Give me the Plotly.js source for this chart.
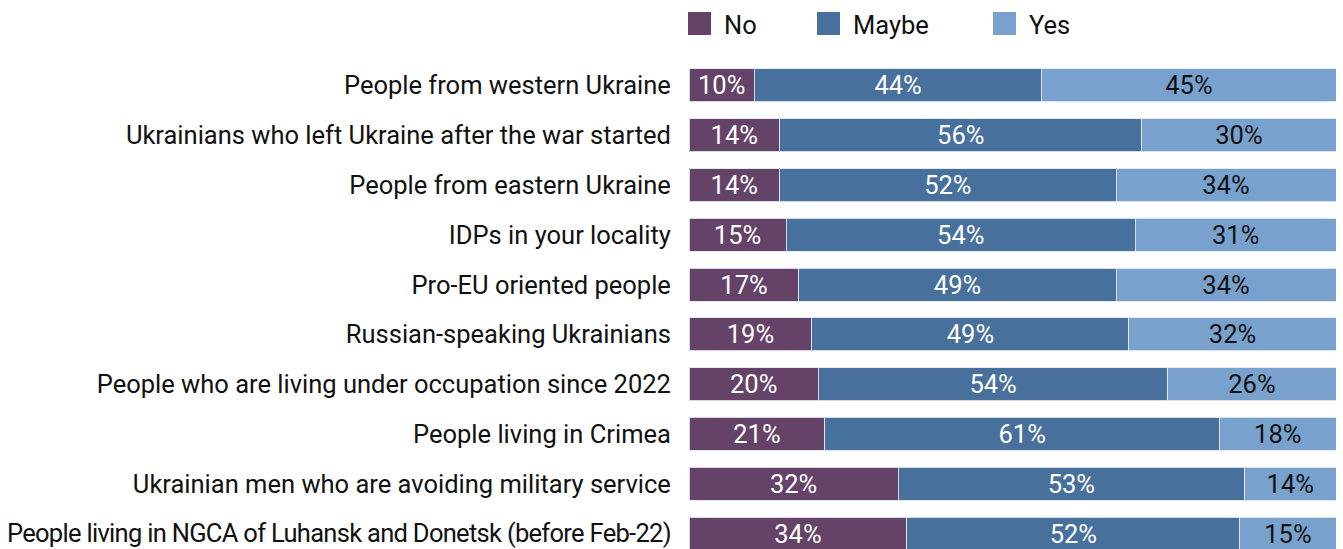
<!DOCTYPE html>
<html>
<head>
<meta charset="utf-8">
<script src="https://cdn.plot.ly/plotly-3.0.1.min.js"></script>
<style>
  html, body { margin: 0; padding: 0; background: #ffffff; }
  #chart { width: 1343px; height: 549px; }
</style>
</head>
<body>
<div id="chart"></div>
<script>
// Groups, listed top to bottom
const groups = [
  "People from western Ukraine",
  "Ukrainians who left Ukraine after the war started",
  "People from eastern Ukraine",
  "IDPs in your locality",
  "Pro-EU oriented people",
  "Russian-speaking Ukrainians",
  "People who are living under occupation since 2022",
  "People living in Crimea",
  "Ukrainian men who are avoiding military service",
  "People living in NGCA of Luhansk and Donetsk (before Feb-22)"
];

// Answer shares, percent
const noValues    = [10, 14, 14, 15, 17, 19, 20, 21, 32, 34];
const maybeValues = [44, 56, 52, 54, 49, 49, 54, 61, 53, 52];
const yesValues   = [45, 30, 34, 31, 34, 32, 26, 18, 14, 15];

const seriesNames = ["No", "Maybe", "Yes"];
const seriesColors = ["#654368", "#48709c", "#78a1cd"];
const labelColors = ["#ffffff", "#ffffff", "#111111"];

const FONT = "Roboto, 'Noto Sans', sans-serif";
const FS = 25.5;
const W = 1343, H = 549;
const M = { l: 689, r: 7, t: 60, b: 0 };
const plotW = W - M.l - M.r, plotH = H - M.t - M.b;

const seriesValues = [noValues, maybeValues, yesValues];
const traces = seriesValues.map((vals, i) => ({
  type: "bar",
  orientation: "h",
  name: seriesNames[i],
  y: groups,
  x: vals,
  text: vals.map(v => v + "%"),
  texttemplate: "%{text}",
  textposition: "inside",
  insidetextanchor: "middle",
  textangle: 0,
  constraintext: "none",
  textfont: { family: FONT, size: FS, color: labelColors[i] },
  marker: { color: seriesColors[i], line: { color: "rgba(225,232,240,0.9)", width: 1 } },
  hoverinfo: "skip",
  showlegend: false
}));

// The longest group name is set a little tighter so it fits the margin
const tickText = groups.map(g =>
  g.length > 55 ? '<span style="letter-spacing:-0.7px">' + g + '</span>' : g);

// Legend built from swatches and labels above the plot
const px2x = px => (px - M.l) / plotW;
const py2y = py => (H - M.b - py) / plotH;
const legendX = [688, 817, 993];
const shapes = [], annotations = [];
seriesNames.forEach((name, i) => {
  shapes.push({
    type: "rect", xref: "paper", yref: "paper",
    x0: px2x(legendX[i]), x1: px2x(legendX[i] + 23),
    y0: py2y(35), y1: py2y(12),
    fillcolor: seriesColors[i], line: { width: 0 }
  });
  annotations.push({
    xref: "paper", yref: "paper",
    x: px2x(legendX[i] + 34), y: py2y(25),
    xanchor: "left", yanchor: "middle",
    text: name, showarrow: false,
    font: { family: FONT, size: FS, color: "#111111" }
  });
});

const layout = {
  width: W, height: H,
  margin: M,
  paper_bgcolor: "#ffffff",
  plot_bgcolor: "#ffffff",
  barmode: "stack",
  barnorm: "percent",
  bargap: 0.337,
  showlegend: false,
  font: { family: FONT, size: FS, color: "#111111" },
  xaxis: {
    range: [0, 100], visible: false, fixedrange: true
  },
  yaxis: {
    type: "category",
    range: [9.311, -0.512],
    tickvals: groups,
    ticktext: tickText,
    showgrid: false, zeroline: false, showline: false,
    ticks: "outside", ticklen: 12, tickcolor: "rgba(0,0,0,0)",
    tickfont: { family: FONT, size: FS, color: "#111111" },
    fixedrange: true
  },
  shapes: shapes,
  annotations: annotations
};

Plotly.newPlot("chart", traces, layout, { displayModeBar: false, staticPlot: true });
</script>
</body>
</html>
